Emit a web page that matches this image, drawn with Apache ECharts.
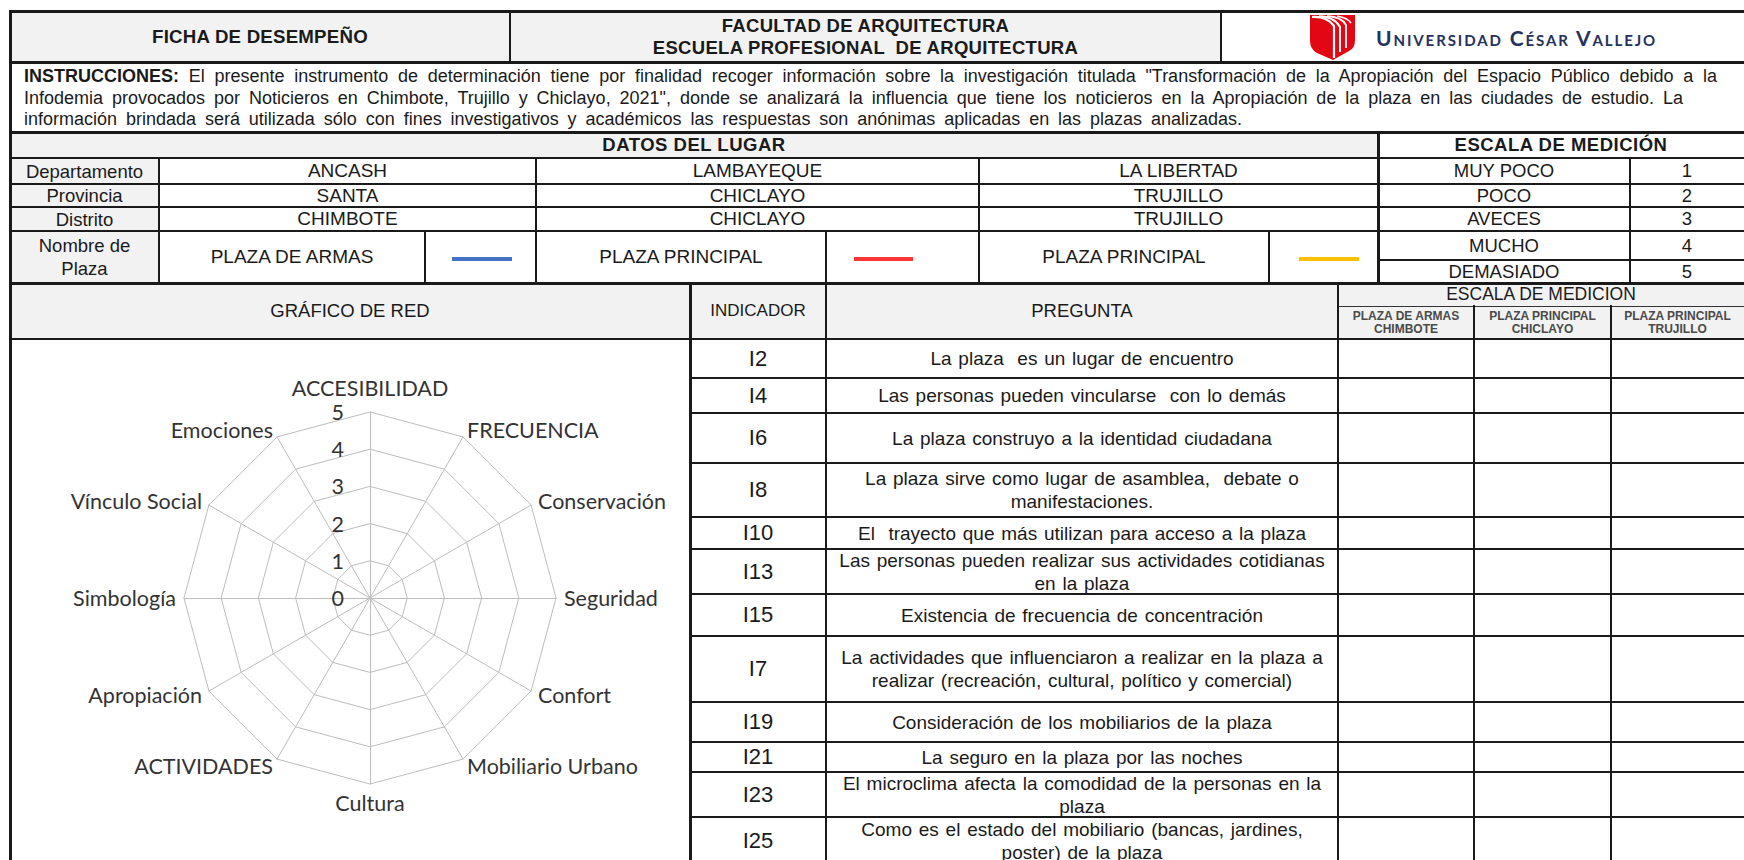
<!DOCTYPE html>
<html>
<head>
<meta charset="utf-8">
<script src="https://cdn.jsdelivr.net/npm/echarts@6/dist/echarts.min.js"></script>
<style>
  html, body { margin: 0; padding: 0; width: 1744px; height: 860px; overflow: hidden; background: #ffffff; }
  #page { position: relative; width: 1744px; height: 860px; overflow: hidden; font-family: 'Liberation Sans', Arial, sans-serif; color: #1a1a1a; }
  .cell { position: absolute; display: flex; align-items: center; justify-content: center; text-align: center; white-space: pre; box-sizing: border-box; }
  .ln { position: absolute; background: #1a1a1a; }
  .iline { position: absolute; white-space: nowrap; font-size: 18px; line-height: 21px; }
  #radar { position: absolute; left: 12px; top: 341px; width: 676px; height: 519px; }
</style>
</head>
<body>
<div id="page"></div>
<script>
// ---------------- data ----------------
const headerTitle = 'FICHA DE DESEMPEÑO';
const facultyLines = ['FACULTAD DE ARQUITECTURA', 'ESCUELA PROFESIONAL  DE ARQUITECTURA'];
const universityName = 'Universidad César Vallejo';
const instructionLabel = 'INSTRUCCIONES:';
const instructionLines = [
  ' El presente instrumento de determinación tiene por finalidad recoger información sobre la investigación titulada "Transformación de la Apropiación del Espacio Público debido a la',
  'Infodemia provocados por Noticieros en Chimbote, Trujillo y Chiclayo, 2021", donde se analizará la influencia que tiene los noticieros en la Apropiación de la plaza en las ciudades de estudio. La',
  'información brindada será utilizada sólo con fines investigativos y académicos las respuestas son anónimas aplicadas en las plazas analizadas.'
];
const placeTitle = 'DATOS DEL LUGAR';
const scaleTitle = 'ESCALA DE MEDICIÓN';
const placeLabels = ['Departamento', 'Provincia', 'Distrito', 'Nombre de\nPlaza'];
const departamentos = ['ANCASH', 'LAMBAYEQUE', 'LA LIBERTAD'];
const provincias = ['SANTA', 'CHICLAYO', 'TRUJILLO'];
const distritos = ['CHIMBOTE', 'CHICLAYO', 'TRUJILLO'];
const plazas = ['PLAZA DE ARMAS', 'PLAZA PRINCIPAL', 'PLAZA PRINCIPAL'];
const scaleLabels = ['MUY POCO', 'POCO', 'AVECES', 'MUCHO', 'DEMASIADO'];
const scaleValues = ['1', '2', '3', '4', '5'];
const chartTitle = 'GRÁFICO DE RED';
const indicatorHeader = 'INDICADOR';
const questionHeader = 'PREGUNTA';
const answerHeader = 'ESCALA DE MEDICION';
const answerColumns = ['PLAZA DE ARMAS\nCHIMBOTE', 'PLAZA PRINCIPAL\nCHICLAYO', 'PLAZA PRINCIPAL\nTRUJILLO'];
const indicatorCodes = ['I2', 'I4', 'I6', 'I8', 'I10', 'I13', 'I15', 'I7', 'I19', 'I21', 'I23', 'I25'];
const questions = [
  'La plaza  es un lugar de encuentro',
  'Las personas pueden vincularse  con lo demás',
  'La plaza construyo a la identidad ciudadana',
  'La plaza sirve como lugar de asamblea,  debate o\nmanifestaciones.',
  'El  trayecto que más utilizan para acceso a la plaza',
  'Las personas pueden realizar sus actividades cotidianas\nen la plaza',
  'Existencia de frecuencia de concentración',
  'La actividades que influenciaron a realizar en la plaza a\nrealizar (recreación, cultural, político y comercial)',
  'Consideración de los mobiliarios de la plaza',
  'La seguro en la plaza por las noches',
  'El microclima afecta la comodidad de la personas en la\nplaza',
  'Como es el estado del mobiliario (bancas, jardines,\nposter) de la plaza'
];
// radar categories, clockwise from the top
const radarCategories = ['ACCESIBILIDAD', 'FRECUENCIA', 'Conservación', 'Seguridad', 'Confort', 'Mobiliario Urbano',
  'Cultura', 'ACTIVIDADES', 'Apropiación', 'Simbología', 'Vínculo Social', 'Emociones'];
const radarMin = 0;
const radarMax = 5;
// series (the form is blank: no values recorded yet)
const seriesNames = ['PLAZA DE ARMAS CHIMBOTE', 'PLAZA PRINCIPAL CHICLAYO', 'PLAZA PRINCIPAL TRUJILLO'];
const valuesChimbote = [];
const valuesChiclayo = [];
const valuesTrujillo = [];

// ---------------- layout ----------------
const page = document.getElementById('page');
const GRAY = '#f2f2f2';
function cell(x0, x1, y0, y1, text, css) {
  const d = document.createElement('div');
  d.className = 'cell';
  d.style.left = x0 + 'px'; d.style.top = y0 + 'px';
  d.style.width = (x1 - x0) + 'px'; d.style.height = (y1 - y0) + 'px';
  if (text != null) d.textContent = text;
  Object.assign(d.style, css || {});
  page.appendChild(d);
  return d;
}
function bg(x0, x1, y0, y1, color) { cell(x0, x1, y0, y1, null, { background: color }); }
function hline(x0, x1, y, w) {
  const d = document.createElement('div'); d.className = 'ln';
  d.style.left = (x0 - 1) + 'px'; d.style.width = (x1 - x0 + 2) + 'px';
  d.style.top = (y - Math.floor(w / 2)) + 'px'; d.style.height = w + 'px';
  if (w < 2) d.style.background = '#333';
  page.appendChild(d);
}
function vline(x, y0, y1, w) {
  const d = document.createElement('div'); d.className = 'ln';
  d.style.top = (y0 - 1) + 'px'; d.style.height = (y1 - y0 + 2) + 'px';
  d.style.left = (x - Math.floor(w / 2)) + 'px'; d.style.width = w + 'px';
  if (w < 2) d.style.background = '#333';
  page.appendChild(d);
}

const R = 1744; // right edge (table continues past the page)
// backgrounds
bg(10, 1221, 11, 62, GRAY);
bg(10, 1378, 132, 158, GRAY);
bg(10, 159, 158, 283, GRAY);
bg(10, R, 283, 339, GRAY);

// header row
cell(10, 510, 11, 62, headerTitle, { fontWeight: 'bold', fontSize: '18.7px', letterSpacing: '0.2px' });
cell(510, 1221, 11, 62, facultyLines.join('\n'), { fontWeight: 'bold', fontSize: '18.5px', lineHeight: '22px', letterSpacing: '0.3px' });
// logo
const logo = document.createElement('div');
logo.style.cssText = 'position:absolute;left:1307px;top:12px;width:52px;height:50px;';
logo.innerHTML = '<svg width="52" height="50" viewBox="0 0 52 50">' +
  '<path d="M3 3 L48 3 L48 28 Q48 36 42 39 L26 48 L10 41 Q3 37 3 29 Z" fill="#e30613"/>' +
  '<path d="M5 5 Q20 4 27 14 L27 46" stroke="#ffffff" stroke-width="2.2" fill="none"/>' +
  '<path d="M12 4 Q28 5 33 15 L33 40" stroke="#ffffff" stroke-width="2" fill="none"/>' +
  '<path d="M20 4 Q35 5 39 13 L39 36" stroke="#ffffff" stroke-width="1.8" fill="none"/>' +
  '<path d="M30 4 Q41 6 44 11" stroke="#ffffff" stroke-width="1.5" fill="none"/>' +
  '</svg>';
page.appendChild(logo);
cell(1376, 1680, 14, 60, universityName, { fontFamily: 'Lato, sans-serif', fontWeight: 'bold', fontVariant: 'small-caps', fontSize: '21px', letterSpacing: '1.9px', color: '#26315e', justifyContent: 'flex-start' });

// instructions
const instrEnds = [1717, 1683, 1242];
instructionLines.forEach((t, i) => {
  const d = document.createElement('div');
  d.className = 'iline';
  d.style.left = '24px'; d.style.top = (66 + i * 21.5) + 'px';
  if (i === 0) {
    const b = document.createElement('b'); b.textContent = instructionLabel; d.appendChild(b);
  }
  d.appendChild(document.createTextNode(t));
  page.appendChild(d);
  const natural = d.getBoundingClientRect().width;
  const spaces = (d.textContent.match(/ /g) || []).length;
  const target = instrEnds[i] - 24;
  if (spaces > 0) d.style.wordSpacing = ((target - natural) / spaces) + 'px';
});

// datos del lugar
cell(10, 1378, 132, 158, placeTitle, { fontWeight: 'bold', fontSize: '18.5px', letterSpacing: '0.5px' });
cell(1378, R, 132, 158, scaleTitle, { fontWeight: 'bold', fontSize: '18.5px', letterSpacing: '0.5px' });
const rowsY = [158, 184, 207, 231, 283];
placeLabels.forEach((t, i) => cell(10, 159, rowsY[i], rowsY[i + 1], t, { fontSize: '18.5px', lineHeight: '23px' }));
const groups = [[159, 536, 425], [536, 979, 826], [979, 1378, 1269]];
const rowsData = [departamentos, provincias, distritos];
rowsData.forEach((arr, r) => arr.forEach((t, g) => cell(groups[g][0], groups[g][1], rowsY[r], rowsY[r + 1], t, { fontSize: '19px' })));
plazas.forEach((t, g) => cell(groups[g][0], groups[g][2], 231, 283, t, { fontSize: '19px' }));
const swatches = [[452, 512, '#4472c4'], [854, 913, '#ff3535'], [1299, 1359, '#ffc000']];
swatches.forEach(s => bg(s[0], s[1], 257, 261, s[2]));
const scaleY = [158, 184, 207, 231, 260, 283];
scaleLabels.forEach((t, i) => {
  cell(1378, 1630, scaleY[i], scaleY[i + 1], t, { fontSize: '18.5px' });
  cell(1630, R, scaleY[i], scaleY[i + 1], scaleValues[i], { fontSize: '18.5px' });
});

// lower section headers
cell(10, 690, 283, 339, chartTitle, { fontSize: '18.5px' });
cell(690, 826, 283, 339, indicatorHeader, { fontSize: '17px' });
cell(826, 1338, 283, 339, questionHeader, { fontSize: '18.5px' });
cell(1338, R, 283, 306, answerHeader, { fontSize: '17.5px' });
const ansX = [1338, 1474, 1611, R];
answerColumns.forEach((t, i) => cell(ansX[i], ansX[i + 1], 306, 339, t, { fontSize: '12px', fontWeight: 'bold', lineHeight: '13px', color: '#4a4a4a' }));

// question rows
const qY = [339, 378, 413, 463, 517, 549, 594, 636, 702, 742, 772, 817, 864];
indicatorCodes.forEach((c, i) => {
  cell(690, 826, qY[i], qY[i + 1], c, { fontSize: '22px' });
  cell(826, 1338, qY[i], qY[i + 1], questions[i], { fontSize: '19px', lineHeight: '23px', wordSpacing: '1.5px' });
});

// ---------------- grid lines ----------------
hline(10, R, 11, 3);
hline(10, R, 62, 3);
hline(10, R, 132, 3);
hline(10, R, 158, 2);
hline(10, 1378, 184, 2); hline(1378, R, 184, 2);
hline(10, R, 207, 2);
hline(10, R, 231, 2);
hline(1378, R, 260, 2);
hline(10, R, 283, 3);
hline(1338, R, 306, 1);
hline(10, R, 339, 2);
for (let i = 1; i < qY.length - 1; i++) hline(690, R, qY[i], 2);
vline(10, 11, 860, 3);
vline(510, 11, 62, 2);
vline(1221, 11, 62, 2);
vline(159, 158, 283, 2);
vline(536, 158, 283, 2);
vline(979, 158, 283, 2);
vline(1378, 132, 283, 3);
vline(1630, 158, 283, 2);
vline(425, 231, 283, 2);
vline(826, 231, 283, 2);
vline(1269, 231, 283, 2);
vline(690, 283, 860, 3);
vline(826, 283, 860, 2);
vline(1338, 283, 860, 2);
vline(1474, 306, 860, 2);
vline(1611, 306, 860, 2);

// ---------------- radar chart ----------------
const radarDiv = document.createElement('div');
radarDiv.id = 'radar';
page.appendChild(radarDiv);
const chart = echarts.init(radarDiv, null, { renderer: 'svg' });
// ECharts lays indicators counter-clockwise; reorder so they read clockwise
const ordered = [radarCategories[0]].concat(radarCategories.slice(1).reverse());
const reorder = arr => arr.length ? [arr[0]].concat(arr.slice(1).reverse()) : arr;
const textColor = '#333333';
chart.setOption({
  animation: false,
  radar: {
    center: [358, 257],
    radius: 186,
    startAngle: 90,
    splitNumber: 5,
    shape: 'polygon',
    nameGap: 8,
    axisName: { color: textColor, fontFamily: 'Lato, sans-serif', fontSize: 21.5 },
    splitLine: { lineStyle: { color: '#bdbdbd', width: 1 } },
    splitArea: { show: false },
    axisLine: { lineStyle: { color: '#bdbdbd', width: 1 } },
    axisTick: { show: false },
    axisLabel: { show: false, color: textColor, fontFamily: 'Lato, sans-serif', fontSize: 21.5, margin: 26 },
    indicator: ordered.map((name, i) => {
      const ind = { name: name, min: radarMin, max: radarMax };
      if (i === 0) { ind.axisLabel = { show: true }; ind.nameGap = 13; }
      return ind;
    })
  },
  series: [{
    type: 'radar',
    symbol: 'none',
    data: [
      { name: seriesNames[0], value: reorder(valuesChimbote), lineStyle: { color: '#4472c4', width: 2.5 } },
      { name: seriesNames[1], value: reorder(valuesChiclayo), lineStyle: { color: '#ff3535', width: 2.5 } },
      { name: seriesNames[2], value: reorder(valuesTrujillo), lineStyle: { color: '#ffc000', width: 2.5 } }
    ].filter(d => d.value.length)
  }]
});
</script>
</body>
</html>
